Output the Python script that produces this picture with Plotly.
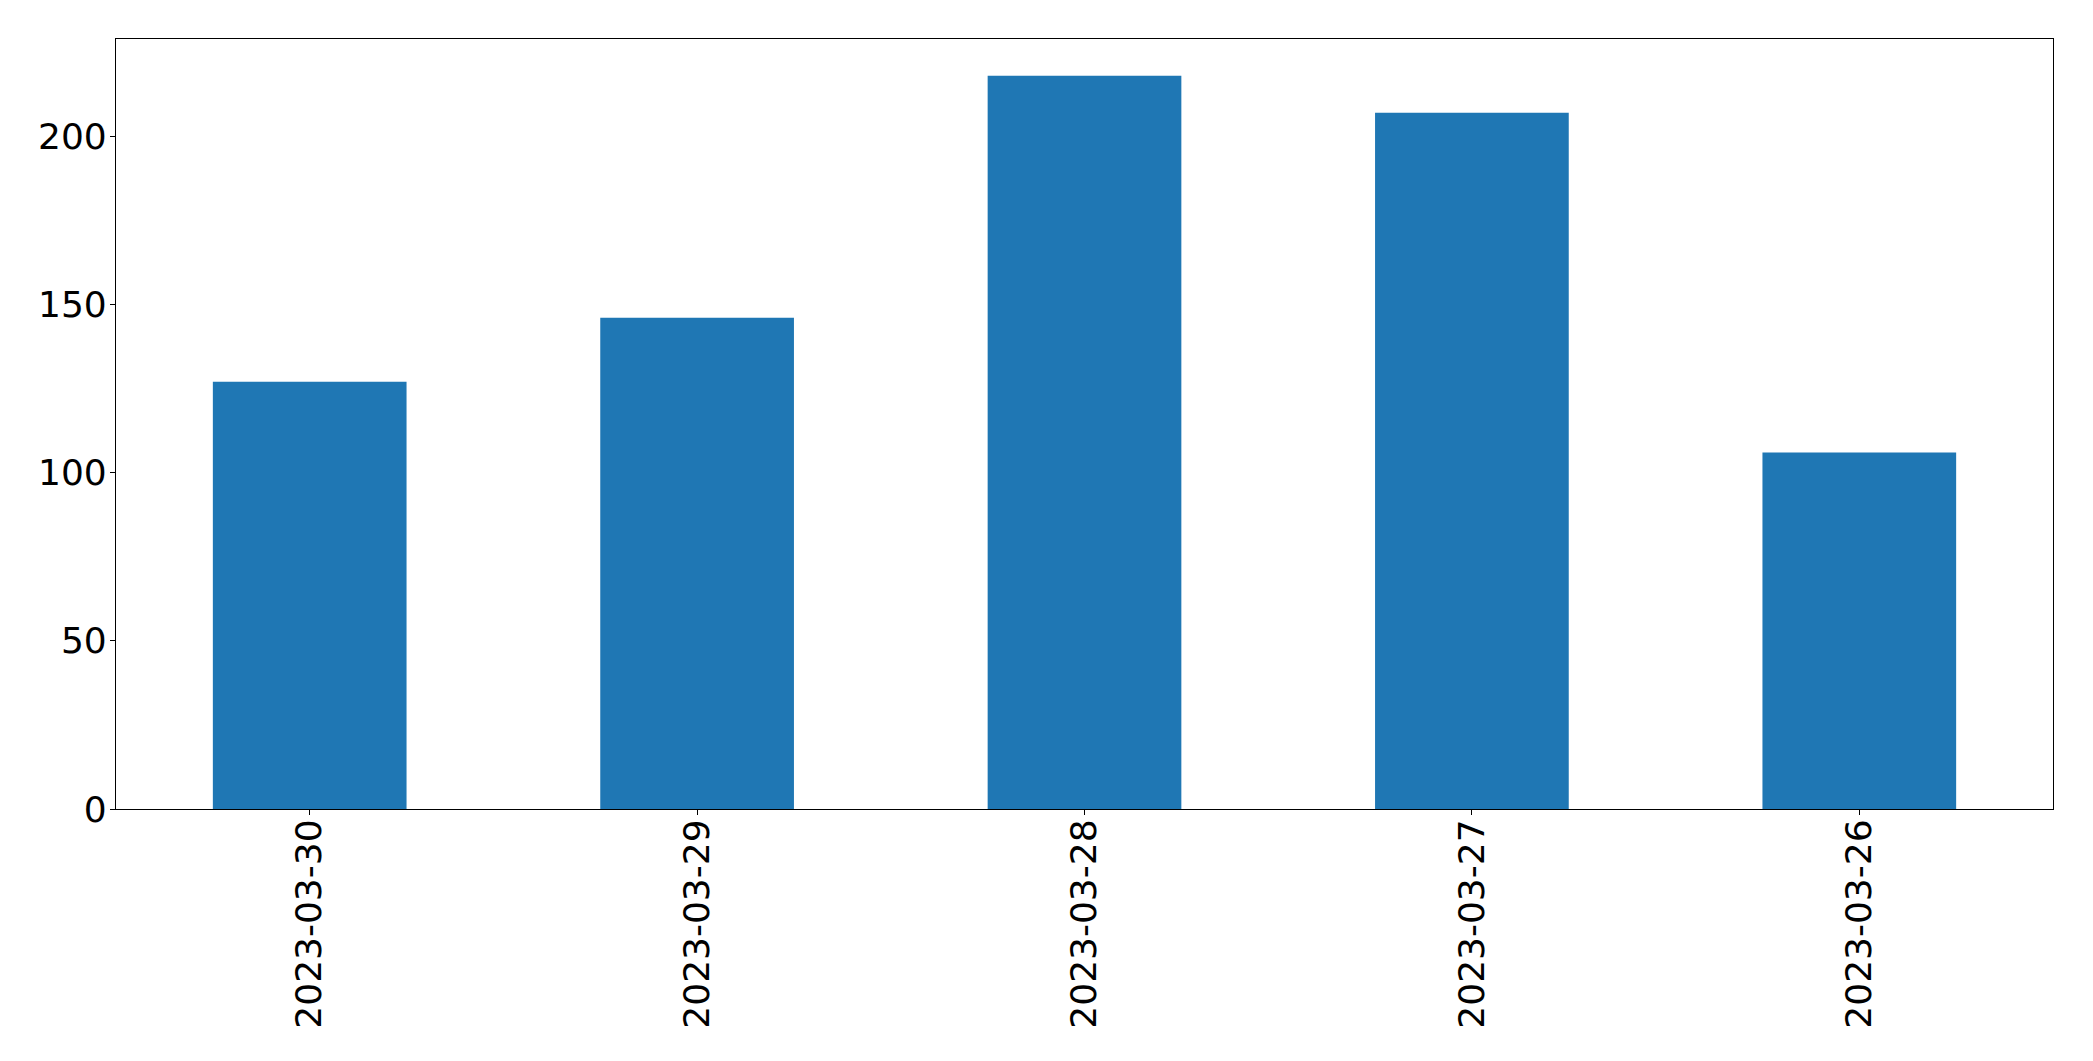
import plotly.graph_objects as go

dates = ["2023-03-30", "2023-03-29", "2023-03-28", "2023-03-27", "2023-03-26"]
counts = [127, 146, 218, 207, 106]
y_ticks = [0, 50, 100, 150, 200]

W, H = 2093, 1061
fig = go.Figure(
    go.Bar(
        x=dates,
        y=counts,
        width=0.5,
        marker=dict(color="#1f77b4", line=dict(width=0)),
        hoverinfo="skip",
    )
)

axis_common = dict(
    showline=True,
    linecolor="black",
    linewidth=1.1,
    mirror=True,
    ticks="outside",
    ticklen=5,
    tickwidth=1.1,
    tickcolor="black",
    showgrid=False,
    zeroline=False,
    tickfont=dict(family="DejaVu Sans", size=36, color="black"),
)

fig.update_layout(
    width=W,
    height=H,
    margin=dict(l=116, r=40, t=39, b=252),
    paper_bgcolor="white",
    plot_bgcolor="white",
    showlegend=False,
    xaxis=dict(
        type="category",
        range=[-0.5, len(dates) - 0.5],
        tickangle=-90,
        automargin=False,
        ticklabelstandoff=-10,
        **axis_common,
    ),
    yaxis=dict(
        range=[0, max(counts) * 1.05],
        tickvals=y_ticks,
        automargin=False,
        ticklabelstandoff=-4,
        **axis_common,
    ),
)

fig.write_html(
    "out.html",
    config={"displayModeBar": False},
    post_script="document.body.style.margin='0px';document.body.style.overflow='hidden';",
)
